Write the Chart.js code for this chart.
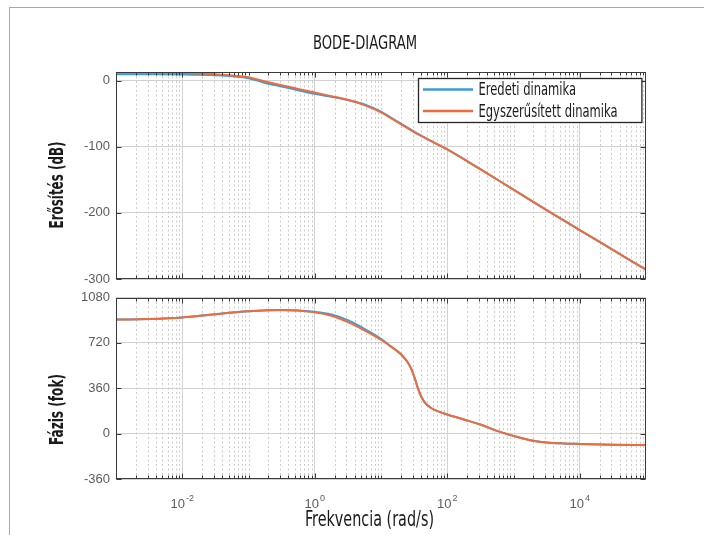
<!DOCTYPE html>
<html lang="hu">
<head>
    <meta charset="UTF-8">
    <title>Bode-diagram</title>
    <script src="https://cdn.jsdelivr.net/npm/chart.js"></script>
    <style>
        html, body { margin: 0; padding: 0; background: #fff; }
        #page { position: relative; width: 704px; height: 535px; overflow: hidden; }
        #sheet { position: absolute; left: 9px; top: 7px; width: 720px; height: 560px;
                 border-left: 1px solid #a8a8a8; border-top: 1px solid #a8a8a8; }
        #magChart { position: absolute; left: 0; top: 0; }
        #phaseChart { position: absolute; left: 0; top: 290px; }
    </style>
</head>
<body>
<div id="page">
    <div id="sheet"></div>
    <canvas id="magChart" width="704" height="290"></canvas>
    <canvas id="phaseChart" width="704" height="245"></canvas>
</div>
<script>
// series names
const seriesNames = ['Eredeti dinamika', 'Egyszerűsített dinamika'];

// amplitude (dB)
const magFreq = [0.001, 0.00316, 0.01, 0.0316, 0.1, 0.178, 0.316, 0.562, 1, 1.78, 3.16, 5.62,
                 10, 17.8, 31.6, 56.2, 100, 316, 1000, 3162, 10000, 31623, 100000];
const magOriginal = [9.5, 9.5, 9.3, 8, 3.5, -3.5, -9, -14.5, -20, -24.5, -29.5, -36,
                     -47, -62, -77, -91, -104, -134, -165, -196, -226, -256, -286];
const magSimplified = [11.7, 11.7, 11.4, 9.5, 5, -1.5, -7, -12.5, -18, -23.5, -29, -37,
                       -48, -63, -78, -91, -104, -134, -165, -196, -226, -256, -286];

// phase (deg)
const phaseFreq = [0.001, 0.00316, 0.01, 0.0316, 0.1, 0.316, 1, 1.78, 3.16, 5.62, 10, 14.1,
                   20, 25, 28.8, 33, 36.3, 40, 45.7, 56.2, 75, 100, 178, 316, 562, 1000,
                   1778, 3162, 5623, 10000, 31623, 100000];
const phaseOriginal = [905, 910, 922, 948, 970, 981, 966, 946, 900, 832, 752, 692,
                       630, 570, 510, 425, 355, 300, 248, 205, 175, 152, 112, 72, 22, -18,
                       -52, -70, -78, -82, -88, -90];
const phaseSimplified = [905, 910, 922, 948, 970, 980, 962, 935, 885, 820, 745, 690,
                         630, 570, 510, 425, 355, 300, 248, 205, 175, 152, 112, 72, 22, -18,
                         -52, -70, -78, -82, -88, -90];

// axes
const xRange = [1e-3, 1e5];
const xLabelTicks = [1e-2, 1, 1e2, 1e4];
const magTicks = [-300, -200, -100, 0];
const magRange = [-300, 13];
const phaseTicks = [-360, 0, 360, 720, 1080];

const mainTitle = 'BODE-DIAGRAM';
const xTitle = 'Frekvencia (rad/s)';
const magTitle = 'Erősítés (dB)';
const phaseTitle = 'Fázis (fok)';

const blue = '#3d9bdc';
const orange = '#ee6c3c';
const narrow = '"DejaVu Sans Condensed", "DejaVu Sans", sans-serif';
const helv = '"Liberation Sans", Arial, Helvetica, sans-serif';

// condensed headline text, squeezed to the width it has in the original
function narrowText(ctx, text, cx, cy, size, weight, width, rotate) {
    ctx.save();
    ctx.font = weight + ' ' + size + 'px ' + narrow;
    const sx = width / ctx.measureText(text).width;
    ctx.translate(cx, cy);
    if (rotate) ctx.rotate(-Math.PI / 2);
    ctx.scale(sx, 1);
    ctx.fillStyle = '#1a1a1a';
    ctx.textAlign = 'center';
    ctx.textBaseline = 'middle';
    ctx.fillText(text, 0, 0);
    ctx.restore();
}

// every 1..9 x 10^n between the limits (minor grid)
const minorX = [];
for (let e = -3; e <= 4; e++) {
    for (let k = 1; k <= 9; k++) {
        const v = k * Math.pow(10, e);
        if (!xLabelTicks.some(t => Math.abs(t - v) < v * 1e-9)) minorX.push(v);
    }
}

// dotted minor grid, box, inward ticks and the texts of each panel
const matlabAxes = {
    id: 'matlabAxes',
    beforeDatasetsDraw(chart) {
        const {ctx, chartArea: a, scales: {x}} = chart;
        ctx.save();
        ctx.strokeStyle = '#cdcdcd';
        ctx.lineWidth = 1;
        ctx.setLineDash([2, 2.5]);
        minorX.forEach(v => {
            const px = Math.round(x.getPixelForValue(v)) + 0.5;
            if (px <= a.left + 1 || px >= a.right - 1) return;
            ctx.beginPath();
            ctx.moveTo(px, a.top);
            ctx.lineTo(px, a.bottom);
            ctx.stroke();
        });
        ctx.restore();
    },
    afterDraw(chart, args, opts) {
        const {ctx, chartArea: a, scales: {x, y}} = chart;
        ctx.save();
        ctx.strokeStyle = '#3a3a3a';
        ctx.lineWidth = 1;
        const L = Math.round(a.left) + 0.5, R = Math.round(a.right) - 0.5;
        const T = Math.round(a.top) + 0.5, B = Math.round(a.bottom) - 0.5;
        ctx.beginPath();
        const tick = (x1, y1, x2, y2) => { ctx.moveTo(x1, y1); ctx.lineTo(x2, y2); };
        minorX.forEach(v => {
            const px = Math.round(x.getPixelForValue(v)) + 0.5;
            tick(px, B, px, B - 3);
            tick(px, T, px, T + 3);
        });
        xLabelTicks.forEach(v => {
            const px = Math.round(x.getPixelForValue(v)) + 0.5;
            tick(px, B, px, B - 5);
            tick(px, T, px, T + 5);
        });
        y.ticks.forEach(t => {
            const py = Math.round(y.getPixelForValue(t.value)) + 0.5;
            tick(L, py, L + 5, py);
            tick(R, py, R - 5, py);
        });
        ctx.stroke();
        ctx.strokeRect(L, T, R - L, B - T);

        // decade labels with raised exponent
        if (opts.decadeLabels) {
            ctx.fillStyle = '#5c5c5c';
            ctx.textBaseline = 'alphabetic';
            ctx.textAlign = 'left';
            xLabelTicks.forEach(v => {
                const ex = String(Math.round(Math.log10(v)));
                ctx.font = '13px ' + helv;
                const wb = ctx.measureText('10').width;
                ctx.font = '9px ' + helv;
                const we = ctx.measureText(ex).width;
                const x0 = x.getPixelForValue(v) - (wb + we + 1) / 2;
                ctx.font = '13px ' + helv;
                ctx.fillText('10', x0, a.bottom + 29);
                ctx.font = '9px ' + helv;
                ctx.fillText(ex, x0 + wb + 1, a.bottom + 22);
            });
        }
        ctx.restore();

        if (opts.title) narrowText(ctx, opts.title, a.left + 249, a.top - 28, 20, 'normal', 104, false);
        if (opts.xTitle) narrowText(ctx, opts.xTitle, a.left + 253.5, a.bottom + 42, 21, 'normal', 129, false);
        if (opts.yTitle) narrowText(ctx, opts.yTitle.text, a.left - 58.5, a.top + opts.yTitle.dy, 20, 'bold', opts.yTitle.width, true);
    }
};

// legend box inside the upper axes
const insideLegend = {
    id: 'insideLegend',
    afterDraw(chart) {
        const {ctx, chartArea: a} = chart;
        const w = 223.4, h = 44;
        const right = a.right - 4.3, top = Math.round(a.top + 6) + 0.5;
        const left = Math.round(right - w) + 0.5;
        ctx.save();
        ctx.fillStyle = '#fff';
        ctx.fillRect(left, top, w, h);
        ctx.strokeStyle = '#262626';
        ctx.lineWidth = 1.3;
        ctx.strokeRect(left, top, w, h);
        ctx.font = 'normal 18px ' + narrow;
        const sets = chart.data.datasets;
        const sx = 139 / ctx.measureText(sets[1].label).width;
        sets.forEach((d, i) => {
            const yy = top + 11 + i * 21.4;
            ctx.strokeStyle = d.borderColor;
            ctx.lineWidth = 2.5;
            ctx.beginPath();
            ctx.moveTo(left + 4.5, yy);
            ctx.lineTo(left + 54.5, yy);
            ctx.stroke();
            ctx.save();
            ctx.translate(left + 60, yy + 1.2);
            ctx.scale(sx, 1);
            ctx.fillStyle = '#1a1a1a';
            ctx.textBaseline = 'middle';
            ctx.textAlign = 'left';
            ctx.fillText(d.label, 0, 0);
            ctx.restore();
        });
        ctx.restore();
    }
};

function makeSets(freq, a, b) {
    return [
        { label: seriesNames[0], data: freq.map((f, i) => ({x: f, y: a[i]})),
          borderColor: blue, backgroundColor: blue, order: 2 },
        { label: seriesNames[1], data: freq.map((f, i) => ({x: f, y: b[i]})),
          borderColor: orange, backgroundColor: orange, order: 1 }
    ];
}

function xScale(height) {
    return {
        type: 'logarithmic',
        min: xRange[0],
        max: xRange[1],
        afterBuildTicks: s => { s.ticks = xLabelTicks.map(v => ({value: v})); },
        ticks: { display: false },
        grid: { color: '#d2d2d2', lineWidth: 1, drawTicks: false },
        border: { display: false },
        afterFit: s => { s.height = height; s.paddingLeft = 0; s.paddingRight = 0; }
    };
}

function yScale(range, ticks) {
    return {
        min: range[0],
        max: range[1],
        afterBuildTicks: s => { s.ticks = ticks.map(v => ({value: v})); },
        ticks: {
            autoSkip: false,
            padding: 6,
            color: '#5c5c5c',
            font: { family: helv, size: 13 },
            callback: v => String(v)
        },
        grid: { color: '#d2d2d2', lineWidth: 1, drawTicks: false },
        border: { display: false },
        afterFit: s => { s.width = 116; s.paddingTop = 0; s.paddingBottom = 0; }
    };
}

const common = {
    responsive: false,
    animation: false,
    events: [],
    elements: {
        point: { radius: 0 },
        line: { borderWidth: 2, cubicInterpolationMode: 'monotone' }
    }
};

new Chart(document.getElementById('magChart'), {
    type: 'line',
    data: { datasets: makeSets(magFreq, magOriginal, magSimplified) },
    options: Object.assign({}, common, {
        layout: { padding: { left: 0, right: 58, top: 72, bottom: 11 } },
        plugins: {
            legend: { display: false },
            tooltip: { enabled: false },
            matlabAxes: {
                decadeLabels: false,
                title: mainTitle,
                yTitle: { text: magTitle, dy: 113, width: 87 }
            }
        },
        scales: {
            x: xScale(0),
            y: yScale(magRange, magTicks)
        }
    }),
    plugins: [matlabAxes, insideLegend]
});

new Chart(document.getElementById('phaseChart'), {
    type: 'line',
    data: { datasets: makeSets(phaseFreq, phaseOriginal, phaseSimplified) },
    options: Object.assign({}, common, {
        layout: { padding: { left: 0, right: 58, top: 7.5, bottom: 0 } },
        plugins: {
            legend: { display: false },
            tooltip: { enabled: false },
            matlabAxes: {
                decadeLabels: true,
                xTitle: xTitle,
                yTitle: { text: phaseTitle, dy: 112, width: 71 }
            }
        },
        scales: {
            x: xScale(56),
            y: yScale([phaseTicks[0], phaseTicks[phaseTicks.length - 1]], phaseTicks)
        }
    }),
    plugins: [matlabAxes]
});
</script>
</body>
</html>
